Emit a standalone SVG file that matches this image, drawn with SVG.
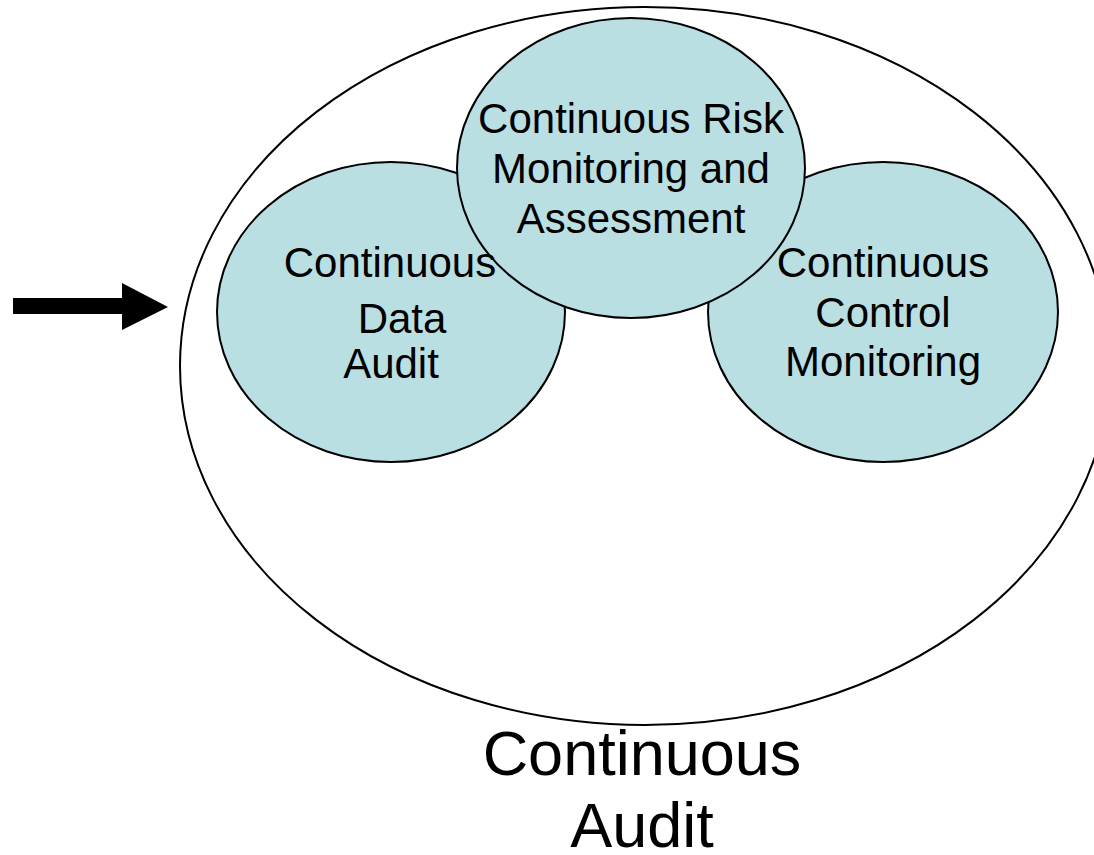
<svg xmlns="http://www.w3.org/2000/svg" width="1094" height="855" viewBox="0 0 1094 855">
  <style>
    .bubble { fill: #B9DFE3; stroke: #000; stroke-width: 2; }
    .outer { fill: #fff; stroke: #000; stroke-width: 2; }
    .lbl { font-family: "Liberation Sans", Arial, sans-serif; font-size: 42px; fill: #000; text-anchor: middle; }
    .big { font-family: "Liberation Sans", Arial, sans-serif; font-size: 63px; fill: #000; text-anchor: middle; }
  </style>
  <rect width="1094" height="855" fill="#fff"/>

  <!-- enclosing continuous audit ellipse -->
  <g id="continuous-audit">
    <ellipse class="outer" cx="645" cy="366" rx="465" ry="359"/>
    <text class="big" x="642" y="775">Continuous</text>
    <text class="big" x="642" y="847">Audit</text>
  </g>

  <!-- component ellipses -->
  <g id="data-audit">
    <ellipse class="bubble" cx="391" cy="312" rx="174" ry="150"/>
  </g>
  <g id="control-monitoring">
    <ellipse class="bubble" cx="883" cy="312" rx="175" ry="150"/>
  </g>
  <g id="risk-monitoring">
    <ellipse class="bubble" cx="631" cy="168" rx="174" ry="150"/>
    <text class="lbl" x="631" y="133">Continuous Risk</text>
    <text class="lbl" x="631" y="183">Monitoring and</text>
    <text class="lbl" x="631" y="233">Assessment</text>
  </g>

  <!-- labels kept above all fills -->
  <g id="data-audit-label">
    <text class="lbl" x="390" y="277">Continuous</text>
    <text class="lbl" x="402" y="333">Data</text>
    <text class="lbl" x="391" y="378">Audit</text>
  </g>
  <g id="control-monitoring-label">
    <text class="lbl" x="883" y="277">Continuous</text>
    <text class="lbl" x="883" y="327">Control</text>
    <text class="lbl" x="883" y="376">Monitoring</text>
  </g>

  <!-- connectors -->
  <g id="connectors">
    <polygon fill="#000" points="13,298 122,298 122,283 168,307 122,330 122,314 13,314"/>
  </g>
</svg>
